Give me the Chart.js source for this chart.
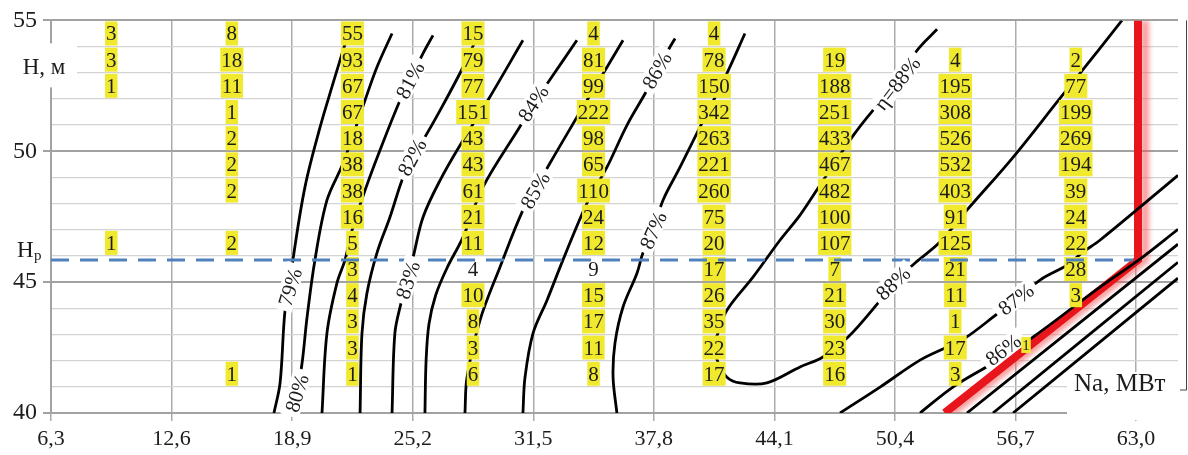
<!DOCTYPE html>
<html><head><meta charset="utf-8">
<script src="https://cdn.jsdelivr.net/npm/chart.js@4.4.1/dist/chart.umd.min.js"></script>
<style>html,body{margin:0;padding:0;background:#fff;}#wrap{width:1188px;height:455px;}</style>
</head><body><div id="wrap"><canvas id="c" width="1188" height="455" style="width:1188px;height:455px"></canvas></div>
<script>
// ---------- axes ----------
const X_TICKS = [6.3, 12.6, 18.9, 25.2, 31.5, 37.8, 44.1, 50.4, 56.7, 63.0];
const X_MIN = 6.3, X_MAX = 65.19, Y_MIN = 40, Y_MAX = 55;

// ---------- counts table (yellow cells) ----------
const COL_X = [9.45, 15.75, 22.05, 28.35, 34.65, 40.95, 47.25, 53.55, 59.85];
const ROW_Y = [54.5, 53.5, 52.5, 51.5, 50.5, 49.5, 48.5, 47.5, 46.5, 45.5, 44.5, 43.5, 42.5, 41.5];
const COL1 = [3, 3, 1, null, null, null, null, null, 1, null, null, null, null, null];
const COL2 = [8, 18, 11, 1, 2, 2, 2, null, 2, null, null, null, null, 1];
const COL3 = [55, 93, 67, 67, 18, 38, 38, 16, 5, 3, 4, 3, 3, 1];
const COL4 = [15, 79, 77, 151, 43, 43, 61, 21, 11, 4, 10, 8, 3, 6];
const COL5 = [4, 81, 99, 222, 98, 65, 110, 24, 12, 9, 15, 17, 11, 8];
const COL6 = [4, 78, 150, 342, 263, 221, 260, 75, 20, 17, 26, 35, 22, 17];
const COL7 = [null, 19, 188, 251, 433, 467, 482, 100, 107, 7, 21, 30, 23, 16];
const COL8 = [null, 4, 195, 308, 526, 532, 403, 91, 125, 21, 11, 1, 17, 3];
const COL9 = [null, 2, 77, 199, 269, 194, 39, 24, 22, 28, 3, null, null, null];
const COUNTS = [COL1, COL2, COL3, COL4, COL5, COL6, COL7, COL8, COL9];
const PLAIN_CELLS = [[28.35, 45.5], [34.65, 45.5]];   // cells without highlight
const EXTRA_X = [57.25], EXTRA_Y = [42.6], EXTRA_V = [1];

// ---------- design head and limit ----------
const HP = 45.85;
const HP_END = 62.85;
const RED = [[53.0, 40], [63.1, 45.85], [63.1, 55]];

// ---------- efficiency contours (Na, H) ----------
const C79 = [[17.95,40],[18.27,41.15],[18.53,43.93],[18.79,44.81],[18.94,45.84],[19.57,48.63],[20.36,50.92],[21.04,52.60],[21.56,53.85],[21.82,54.43]];
const C80 = [[18.84,40],[19.15,40.76],[19.42,41.91],[19.68,43.66],[20.09,45.84],[20.72,48.13],[21.56,49.54],[22.71,51.95],[23.33,53.21],[24.12,54.50]];
const C81 = [[20.46,40],[20.72,43.05],[21.24,44.96],[21.66,45.84],[22.03,46.98],[22.71,48.51],[23.49,50.04],[24.54,51.95],[25.06,52.71],[25.74,53.74],[26.26,54.43]];
const C82 = [[22.45,40],[22.55,43.05],[22.81,44.58],[23.33,46.11],[24.01,47.48],[24.64,48.89],[25.16,49.77],[25.74,50.42],[26.63,51.56],[27.83,53.21],[28.61,54.43]];
const C83 = [[24.12,40],[24.27,43.05],[24.59,44.20],[24.90,45.08],[25.22,45.95],[25.74,47.48],[26.63,48.89],[27.83,50.42],[29.13,51.95],[30.96,54.24]];
const C84 = [[25.84,40],[25.90,42.0],[26.05,43.4],[26.40,44.5],[27.00,45.55],[27.83,46.72],[28.87,48.63],[30.91,51.07],[31.49,51.83],[32.27,52.63],[33.78,54.24]];
const C85 = [[27.93,40],[28.04,41.37],[28.72,43.55],[29.76,45.57],[30.96,47.75],[31.59,48.51],[32.37,49.54],[33.78,51.30],[34.31,51.95],[35.35,53.21],[36.19,54.24]];
const C86 = [[30.96,40],[31.07,41.37],[31.49,43.05],[32.22,44.31],[33.05,45.84],[34.31,48.02],[35.35,49.39],[36.40,51.0],[37.44,52.33],[37.96,53.09],[38.54,53.85],[38.91,54.31]];
const C87 = [[35.87,40],[35.67,41.37],[35.77,42.67],[36.19,44.05],[36.92,45.34],[37.23,46.11],[37.76,46.98],[38.28,48.13],[39.17,49.39],[40.21,50.92],[41.62,52.98],[42.56,54.50]];
const C88 = [[52.60,54.66],[51.55,53.85],[50.51,52.60],[49.25,51.56],[48.15,50.53],[46.48,48.70],[45.44,47.56],[44.39,46.60],[42.98,45.19],[41.62,43.93],[41.15,43.05],[40.94,42.52],[41.15,41.95],[41.62,41.37],[42.30,41.15],[43.71,41.15],[45.44,41.76],[46.64,42.14],[47.95,42.90],[49.51,44.20],[50.30,44.96],[51.45,45.73],[52.75,46.53],[54.16,47.75],[56.57,49.77],[59.02,52.02],[61.11,53.93],[62.26,55.0]];
const C87R = [[47.53,40],[49.62,40.99],[51.71,42.02],[53.12,42.52],[54.06,42.86],[55.52,43.66],[57.98,45.08],[59.39,45.65],[60.22,46.15],[61.11,46.60],[65.19,49.08]];
const C86R = [[51.71,40],[53.43,40.99],[55.52,41.91],[56.25,42.29],[57.61,42.90],[61.11,44.81],[63.20,45.88],[65.19,47.02]];
const L1 = [[54.16,40],[65.19,46.45]];
const L2 = [[55.52,40],[65.19,45.76]];
const L3 = [[56.57,40],[65.19,45.15]];
const CONTOURS = [C79, C80, C81, C82, C83, C84, C85, C86, C87, C88, C87R, C86R, L1, L2, L3];

// ---------- contour labels ----------
const LABEL_TEXT = ['79%','80%','81%','82%','83%','84%','85%','86%','87%','η=88%','88%','87%','86%'];
const LABEL_X = [18.79, 19.15, 25.06, 25.16, 24.95, 31.49, 31.59, 37.96, 37.76, 50.51, 50.30, 56.72, 56.05];
const LABEL_Y = [44.81, 40.76, 52.71, 49.77, 45.08, 51.83, 48.51, 53.09, 46.98, 52.60, 44.96, 44.35, 42.42];
const LABEL_ANGLE = [-73, -73, -62, -62, -72, -57, -60, -60, -66, -52, -43, -37, -37];

// ---------- styles ----------
const SERIF = '"Liberation Serif", "Times New Roman", serif';
const YELLOW = 'rgb(240,233,45)';
const TEXT = '#1c1c1c';

const pts = a => a.map(p => ({x: p[0], y: p[1]}));
const datasets = CONTOURS.map(c => ({
  data: pts(c), showLine: true, borderColor: '#000', borderWidth: 2.8,
  pointRadius: 0, tension: 0.35, fill: false
}));
datasets.push({data: pts(RED), showLine: true, borderColor: '#e8161c', borderWidth: 8,
  pointRadius: 0, tension: 0, fill: false, isRed: true, borderJoinStyle: 'miter'});

const glow = {
  id: 'glow',
  beforeDatasetDraw(chart, args) {
    if (chart.data.datasets[args.index].isRed) {
      const c = chart.ctx; c.save();
      c.shadowColor = 'rgba(245,90,90,0.6)'; c.shadowBlur = 5; c.shadowOffsetX = 7;
    }
  },
  afterDatasetDraw(chart, args) {
    if (chart.data.datasets[args.index].isRed) chart.ctx.restore();
  }
};

const overlay = {
  id: 'overlay',
  afterDatasetsDraw(chart) {
    const ctx = chart.ctx, xs = chart.scales.x, ys = chart.scales.y;
    ctx.save();
    ctx.font = '21px ' + SERIF;
    ctx.textAlign = 'center'; ctx.textBaseline = 'alphabetic';
    COUNTS.forEach((col, ci) => col.forEach((v, ri) => {
      if (v === null) return;
      const px = xs.getPixelForValue(COL_X[ci]), py = ys.getPixelForValue(ROW_Y[ri]);
      const t = String(v), w = ctx.measureText(t).width + 2;
      const plain = PLAIN_CELLS.some(p => p[0] === COL_X[ci] && p[1] === ROW_Y[ri]);
      if (!plain) { ctx.fillStyle = YELLOW; ctx.fillRect(px - w / 2, py - 12, w, 24); }
      ctx.fillStyle = TEXT; ctx.fillText(t, px, py + 7);
    }));
    // design head line
    const yh = ys.getPixelForValue(HP);
    ctx.strokeStyle = '#4f81bd'; ctx.lineWidth = 3; ctx.setLineDash([18, 11]);
    ctx.beginPath(); ctx.moveTo(xs.getPixelForValue(X_MIN), yh); ctx.lineTo(xs.getPixelForValue(HP_END), yh); ctx.stroke();
    ctx.setLineDash([]);
    // contour labels
    ctx.font = '21px ' + SERIF;
    LABEL_TEXT.forEach((t, i) => {
      const px = xs.getPixelForValue(LABEL_X[i]), py = ys.getPixelForValue(LABEL_Y[i]);
      ctx.save(); ctx.translate(px, py); ctx.rotate(LABEL_ANGLE[i] * Math.PI / 180);
      const w = ctx.measureText(t).width;
      ctx.fillStyle = '#fff'; ctx.fillRect(-w / 2 - 5, -10, w + 10, 19);
      ctx.fillStyle = TEXT; ctx.fillText(t, 0, 7);
      ctx.restore();
    });
    ctx.font = '15px ' + SERIF;
    EXTRA_V.forEach((v, i) => {
      const px = xs.getPixelForValue(EXTRA_X[i]), py = ys.getPixelForValue(EXTRA_Y[i]);
      const t = String(v), w = ctx.measureText(t).width + 2;
      ctx.fillStyle = YELLOW; ctx.fillRect(px - w / 2, py - 8, w, 16);
      ctx.fillStyle = TEXT; ctx.fillText(t, px, py + 5);
    });
    ctx.restore();
  },
  afterDraw(chart) {
    const ctx = chart.ctx, a = chart.chartArea;
    ctx.save();
    // H, м label
    ctx.fillStyle = '#fff'; ctx.fillRect(a.left - 38, a.top + 23, 64, 44);
    ctx.fillStyle = TEXT; ctx.font = '23px ' + SERIF; ctx.textAlign = 'center'; ctx.textBaseline = 'alphabetic';
    ctx.fillText('H, м', a.left - 7, a.top + 54);
    // Hp label
    const yh = chart.scales.y.getPixelForValue(HP);
    ctx.textAlign = 'left';
    ctx.font = '23px ' + SERIF; ctx.fillText('H', a.left - 34, yh - 3);
    ctx.font = '15px ' + SERIF; ctx.fillText('p', a.left - 17, yh + 0);
    // Na label
    ctx.fillStyle = '#fff'; ctx.fillRect(a.right - 111, a.bottom - 41, 112, 48);
    ctx.fillStyle = TEXT; ctx.font = '25px ' + SERIF; ctx.textAlign = 'left';
    ctx.fillText('Na, МВт', a.right - 104, a.bottom - 22);
    // frame on the right
    ctx.strokeStyle = '#444'; ctx.lineWidth = 1;
    ctx.beginPath(); ctx.moveTo(a.right + 8.5, a.top); ctx.lineTo(a.right + 8.5, a.bottom - 23);
    ctx.lineTo(a.right + 2, a.bottom - 23); ctx.stroke();
    ctx.restore();
  }
};

new Chart(document.getElementById('c'), {
  type: 'scatter',
  data: {datasets},
  options: {
    responsive: false, animation: false, events: [],
    layout: {padding: {top: 20, right: 10, left: 0, bottom: 0}},
    plugins: {legend: {display: false}, tooltip: {enabled: false}},
    scales: {
      x: {
        type: 'linear', min: X_MIN, max: X_MAX,
        afterBuildTicks: s => { s.ticks = X_TICKS.map(v => ({value: v})); },
        afterFit: s => { s.height = 42; },
        ticks: {autoSkip: false, maxRotation: 0, padding: 5, color: TEXT,
          font: {family: SERIF, size: 22},
          callback: v => Number(v).toFixed(1).replace('.', ',')},
        grid: {color: '#ababab', lineWidth: 1.5, tickLength: 8, tickColor: '#ababab'},
        border: {display: false}
      },
      y: {
        type: 'linear', min: Y_MIN, max: Y_MAX,
        afterFit: s => { s.width = 51; },
        ticks: {stepSize: 1, autoSkip: false, padding: 6, color: TEXT,
          font: {family: SERIF, size: 24},
          callback: v => (v % 5 === 0 ? String(v) : '')},
        grid: {
          color: c => (c.tick && c.tick.value % 5 === 0) ? '#a2a2a2' : '#d3d3d3',
          lineWidth: c => (c.tick && c.tick.value % 5 === 0) ? 2 : 1.3,
          tickLength: 8,
          tickColor: c => (c.tick && c.tick.value % 5 === 0) ? '#a2a2a2' : 'rgba(0,0,0,0)'
        },
        border: {display: true, color: '#a2a2a2', width: 2}
      }
    }
  },
  plugins: [glow, overlay]
});
</script></body></html>
